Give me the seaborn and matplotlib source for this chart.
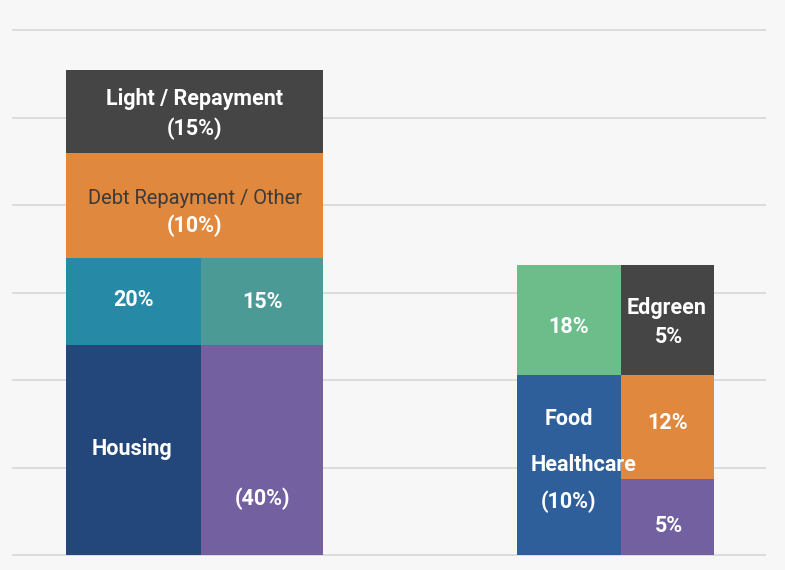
import pandas as pd
import seaborn as sns
from matplotlib import pyplot as plt

# segments: which sub-column, which category (colour), value (grid units)
seg_col = ["L1", "L2", "L1", "L2", "L1", "L2", "L1", "L2", "R1", "R1", "R2", "R2", "R2"]
seg_cat = ["Housing", "Other", "Utilities", "Transport", "Debt", "Debt", "Light", "Light",
           "Food", "Savings", "Other", "Debt", "Light"]
seg_value = [24, 24, 10, 10, 12, 12, 9.4, 9.4, 20.6, 12.6, 8.7, 11.9, 12.6]

# bottom -> top stacking order
stack_order = ["Housing", "Food", "Other", "Utilities", "Transport", "Savings", "Debt", "Light"]

# text written on the blocks: anchor column, anchor category, text
label_col = ["L", "L", "L", "L", "L1", "L2", "L1", "L2",
             "R1", "R1", "R1", "R1", "R2", "R2", "R2", "R2"]
label_cat = ["Light", "Light", "Debt", "Debt", "Utilities", "Transport", "Housing", "Other",
             "Savings", "Food", "Food", "Food", "Light", "Light", "Debt", "Other"]
label_text = ["Light / Repayment", "(15%)", "Debt Repayment / Other", "(10%)", "20%", "15%",
              "Housing", "(40%)", "18%", "Food", "Healthcare", "(10%)", "Edgreen", "5%",
              "12%", "5%"]

palette = {"Housing": "#23477a", "Food": "#2f5f9b", "Other": "#7360a0", "Utilities": "#2689a6",
           "Transport": "#4b9a96", "Savings": "#6dbd8a", "Debt": "#e0883e", "Light": "#454545"}

# layout (x in axes pixels, offsets in px)
edges = {"L1": (54, 189), "L2": (189, 311), "R1": (505, 609), "R2": (609, 702)}
label_dx = [0, 0, 0, 0, 0, 0, -2, 1, 0, 0, 15, 0, -1, 1, 0, 1]
label_dy = [12, -17, 6, -21, 1, -1, 1, -49, -7, 46, 0, -37, 12, -17, 4, -9]
label_color = ["white", "white", "#3a3a3a", "white"] + ["white"] * 12
label_weight = ["bold", "bold", "normal", "bold"] + ["bold"] * 12
label_size = [15.5, 15.5, 14.5, 15.5] + [15.5] * 12

PX = 8.75  # pixels per grid unit


def main():
    sns.set_theme(style="whitegrid")
    plt.rcParams["font.family"] = ["Roboto", "DejaVu Sans"]

    df = pd.DataFrame({"col": seg_col, "cat": seg_cat, "value": seg_value})
    df["x"] = df["col"].map(lambda c: sum(edges[c]) / 2)
    df["rank"] = df["cat"].map(stack_order.index)
    df = df.sort_values(["col", "rank"])
    df["top"] = df.groupby("col")["value"].cumsum()
    df["mid"] = df["top"] - df["value"] / 2

    fig = plt.figure(figsize=(7.85, 5.7), dpi=100, facecolor="#f7f7f7")
    ymin, ymax = -0.5, 60.5
    h = (ymax - ymin) * PX
    bottom_px = 555 + (-ymin) * PX
    ax = fig.add_axes([12 / 785, (570 - bottom_px) / 570, 754 / 785, h / 570])
    ax.set_facecolor("#f7f7f7")

    bins = [54, 189, 311, 505, 609, 702]
    sns.histplot(df, x="x", weights="value", hue="cat", hue_order=stack_order[::-1],
                 palette=palette, bins=bins, multiple="stack", alpha=1, linewidth=0,
                 shrink=1, legend=False, ax=ax)

    for i, txt in enumerate(label_text):
        c = label_col[i]
        if c == "L":
            x = (edges["L1"][0] + edges["L2"][1]) / 2
            row = df[(df["col"] == "L1") & (df["cat"] == label_cat[i])].iloc[0]
        else:
            x = sum(edges[c]) / 2
            row = df[(df["col"] == c) & (df["cat"] == label_cat[i])].iloc[0]
        y = row["mid"] + label_dy[i] / PX
        ax.text(x + label_dx[i], y, txt, ha="center", va="center", fontsize=label_size[i],
                color=label_color[i], fontweight=label_weight[i])

    ax.set_xlim(0, 754)
    ax.set_ylim(ymin, ymax)
    ax.set_yticks(range(0, 61, 10))
    ax.set_xticks([])
    ax.set_yticklabels([])
    ax.set_xlabel("")
    ax.set_ylabel("")
    ax.tick_params(length=0)
    ax.grid(axis="y", color="#dcdcdc", linewidth=1.4)
    ax.grid(axis="x", visible=False)
    ax.set_axisbelow(True)
    for s in ax.spines.values():
        s.set_visible(False)

    fig.savefig("out.png", dpi=100, facecolor=fig.get_facecolor())


if __name__ == "__main__":
    main()
